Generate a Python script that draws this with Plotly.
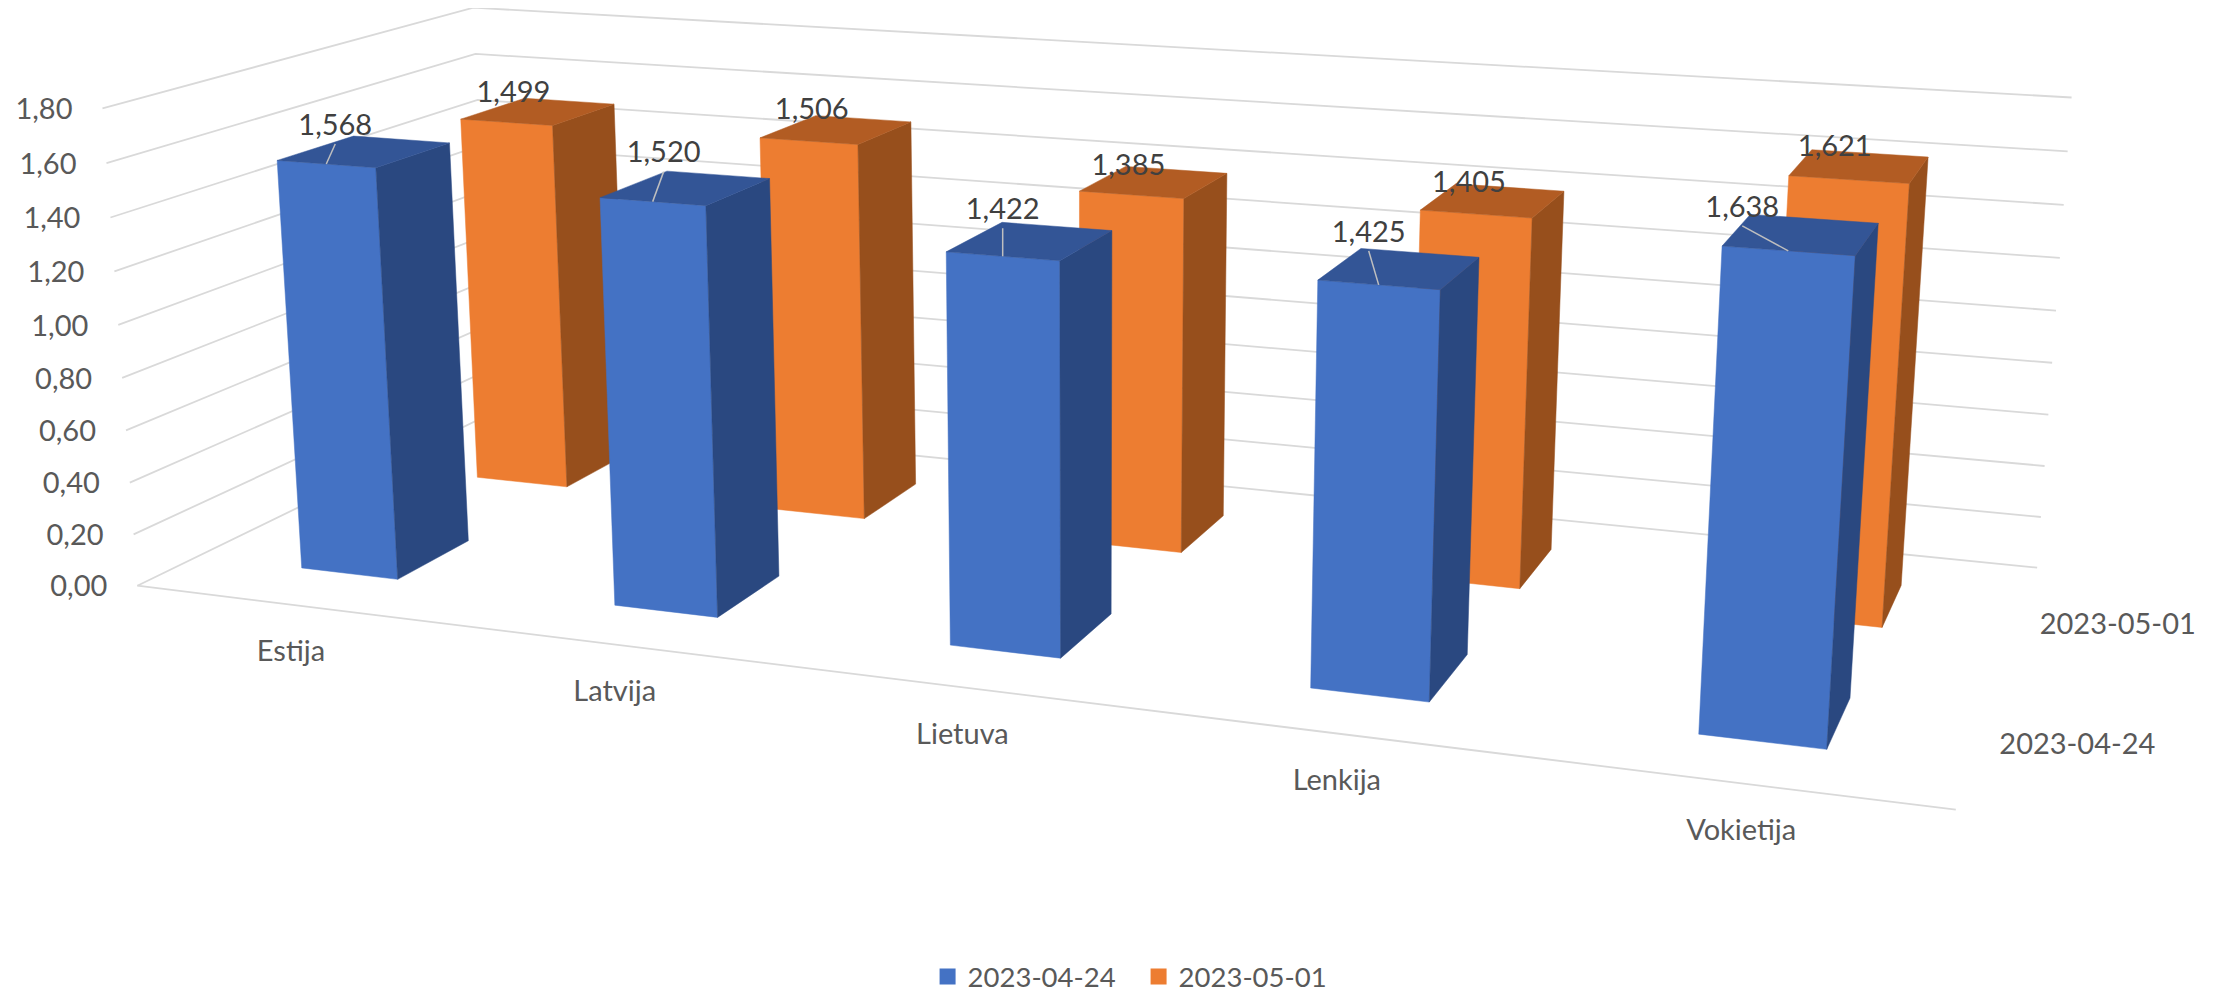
import numpy as np
import plotly.graph_objects as go

# ---- chart data ----
categories = ["Estija", "Latvija", "Lietuva", "Lenkija", "Vokietija"]
series_names = ["2023-04-24", "2023-05-01"]
values_0424 = [1.568, 1.520, 1.422, 1.425, 1.638]
values_0501 = [1.499, 1.506, 1.385, 1.405, 1.621]
z_ticks = [0, 0.2, 0.4, 0.6, 0.8, 1.0, 1.2, 1.4, 1.6, 1.8]

# ---- 3D view: pinhole camera mapping (category, series, value) to the flat plot plane ----
W, H = 2219, 993
PAGE_MARGIN = 8
CAMERA = np.array([
    [297.408, 222.824, -21.3896, 137.347],
    [17.3532, -47.8699, -267.314, 585.732],
    [-0.0338903, 0.0927957, -0.0197058, 1.0],
])
BAR_WIDTH, BAR_DEPTH = 0.3137, 0.3961
N_CAT, N_SER = len(categories), len(series_names)
FONT = "Lato"
TEXT_SIZE = 29
TEXT_DY = 3.5
SHADES = [("#4472C4", "#2A4880", "#335596"), ("#ED7D31", "#974F1C", "#B25C23")]
LABEL_OFFSETS = [
    [(9, -40), (11, -50), (0, -48), (-10, -54), (-46, -45)],
    [(7, -31), (3, -33), (-3, -31), (-7, -33), (-14, -34)],
]


def project(x, y, z):
    h = CAMERA @ np.array([x, y, z, 1.0])
    return h[0] / h[2], h[1] / h[2]


def comma(v, digits):
    return f"{v:.{digits}f}".replace(".", ",")


def add_poly(store, pts):
    for p in pts + [pts[0]]:
        a, b = project(*p)
        store[0].append(a)
        store[1].append(b)
    store[0].append(None)
    store[1].append(None)


fig = go.Figure()

# walls' gridlines and the front floor edge
gx, gy = [], []
for zt in z_ticks:
    for p in [(0, 0, zt), (0, N_SER, zt), (N_CAT, N_SER, zt)]:
        a, b = project(*p)
        gx.append(a)
        gy.append(b)
    gx.append(None)
    gy.append(None)
for p in [(0, 0, 0), (N_CAT, 0, 0)]:
    a, b = project(*p)
    gx.append(a)
    gy.append(b)
fig.add_trace(go.Scatter(x=gx, y=gy, mode="lines", line=dict(color="#D9D9D9", width=1.8),
                         hoverinfo="skip", showlegend=False))

# bars, back series first
series_values = [values_0424, values_0501]
for j in [1, 0]:
    front, side, top = ([], []), ([], []), ([], [])
    for i, v in enumerate(series_values[j]):
        x0, x1 = i + .5 - BAR_WIDTH / 2, i + .5 + BAR_WIDTH / 2
        y0, y1 = j + .5 - BAR_DEPTH / 2, j + .5 + BAR_DEPTH / 2
        add_poly(front, [(x0, y0, 0), (x1, y0, 0), (x1, y0, v), (x0, y0, v)])
        add_poly(side, [(x1, y0, 0), (x1, y1, 0), (x1, y1, v), (x1, y0, v)])
        add_poly(top, [(x0, y0, v), (x1, y0, v), (x1, y1, v), (x0, y1, v)])
    for st, c in zip((front, side, top), SHADES[j]):
        fig.add_trace(go.Scatter(x=st[0], y=st[1], mode="lines", fill="toself", fillcolor=c,
                                 line=dict(color=c, width=.5), hoverinfo="skip", showlegend=False))

# data labels and the leader lines of the front series
lx, ly, tx, ty, tt = [], [], [], [], []
for j in [1, 0]:
    for i, v in enumerate(series_values[j]):
        a, b = project(i + .5, j + .5 - BAR_DEPTH / 2, v)
        dx, dy = LABEL_OFFSETS[j][i]
        tx.append(a + dx)
        ty.append(b + dy + TEXT_DY)
        tt.append(comma(v, 3))
        if j == 0:
            lx += [a, a + dx, None]
            ly += [b, b + dy + 20, None]
fig.add_trace(go.Scatter(x=lx, y=ly, mode="lines", line=dict(color="#BFBFBF", width=1.5),
                         hoverinfo="skip", showlegend=False))
fig.add_trace(go.Scatter(x=tx, y=ty, mode="text", text=tt, textposition="middle center",
                         textfont=dict(family=FONT, size=TEXT_SIZE, color="#404040"),
                         hoverinfo="skip", showlegend=False, cliponaxis=False))

# value axis labels
zp = [project(0, 0, z) for z in z_ticks]
fig.add_trace(go.Scatter(x=[p[0] - 30 for p in zp], y=[p[1] + TEXT_DY for p in zp], mode="text",
                         text=[comma(z, 2) for z in z_ticks], textposition="middle left",
                         textfont=dict(family=FONT, size=TEXT_SIZE, color="#595959"),
                         hoverinfo="skip", showlegend=False, cliponaxis=False))
# category labels
cp = [project(i + .5, 0, 0) for i in range(N_CAT)]
fig.add_trace(go.Scatter(x=[p[0] for p in cp], y=[p[1] + 46 + TEXT_DY for p in cp], mode="text",
                         text=categories, textposition="middle center",
                         textfont=dict(family=FONT, size=TEXT_SIZE, color="#595959"),
                         hoverinfo="skip", showlegend=False, cliponaxis=False))
# series labels
sp = [project(N_CAT, j + .5, 0) for j in range(N_SER)]
fig.add_trace(go.Scatter(x=[p[0] + 98 for p in sp], y=[p[1] + 4 + TEXT_DY for p in sp], mode="text",
                         text=series_names, textposition="middle center",
                         textfont=dict(family=FONT, size=TEXT_SIZE, color="#595959"),
                         hoverinfo="skip", showlegend=False, cliponaxis=False))

# legend entries
for n, sh in zip(series_names, SHADES):
    fig.add_trace(go.Scatter(x=[None], y=[None], mode="markers", name=n,
                             marker=dict(symbol="square", size=18, color=sh[0]), hoverinfo="skip"))

fig.update_layout(
    width=W, height=H, margin=dict(l=0, r=0, t=0, b=0),
    paper_bgcolor="white", plot_bgcolor="white",
    font=dict(family=FONT, size=27.5, color="#595959"),
    xaxis=dict(range=[PAGE_MARGIN, W + PAGE_MARGIN], visible=False),
    yaxis=dict(range=[H + PAGE_MARGIN, PAGE_MARGIN], visible=False),
    legend=dict(orientation="h", x=.5095, xanchor="center", y=0, yanchor="bottom", entrywidth=166),
)
fig.write_html("out.html")
